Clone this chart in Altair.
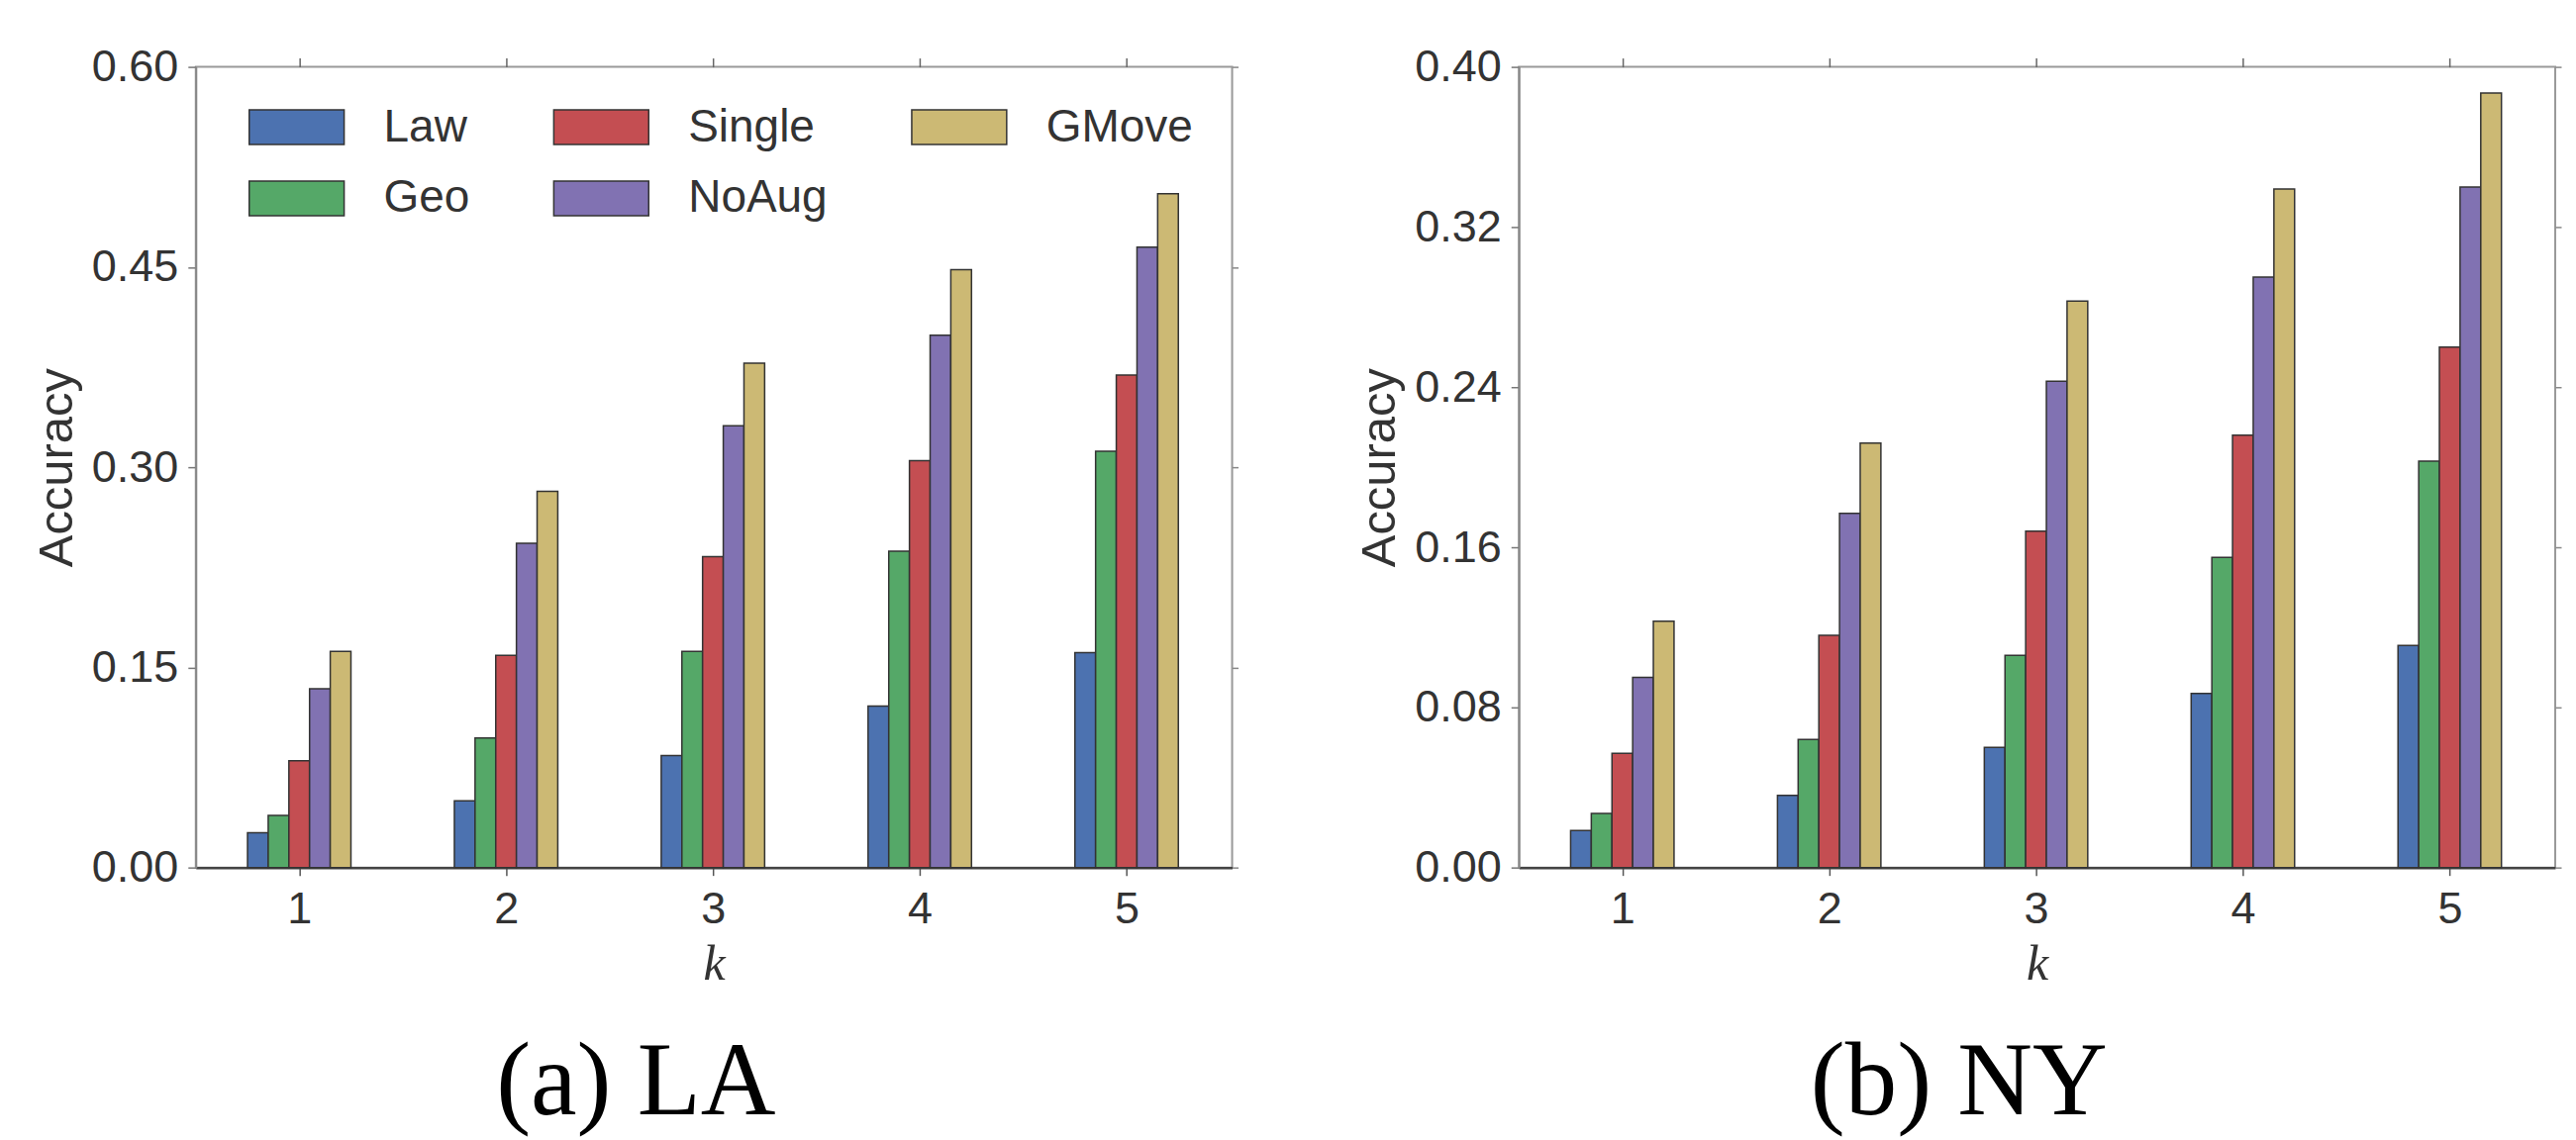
import altair as alt
import pandas as pd

ks = [1, 2, 3, 4, 5]
methods = ["Law", "Geo", "Single", "NoAug", "GMove"]
colors = ["#4C72B0", "#55A868", "#C44E52", "#8172B2", "#CCB974"]

# LA accuracy values
la_law = [0.026, 0.050, 0.084, 0.121, 0.161]
la_geo = [0.039, 0.097, 0.162, 0.237, 0.312]
la_single = [0.080, 0.159, 0.233, 0.305, 0.369]
la_noaug = [0.134, 0.243, 0.331, 0.399, 0.465]
la_gmove = [0.162, 0.282, 0.378, 0.448, 0.505]

# NY accuracy values
ny_law = [0.0185, 0.036, 0.060, 0.087, 0.111]
ny_geo = [0.027, 0.064, 0.106, 0.155, 0.203]
ny_single = [0.057, 0.116, 0.168, 0.216, 0.260]
ny_noaug = [0.095, 0.177, 0.243, 0.295, 0.340]
ny_gmove = [0.123, 0.212, 0.283, 0.339, 0.387]

la_ticks = [0.0, 0.15, 0.30, 0.45, 0.60]
ny_ticks = [0.0, 0.08, 0.16, 0.24, 0.32, 0.40]


def make_df(series):
    rows = []
    for idx, (m, vals) in enumerate(zip(methods, series)):
        for k, v in zip(ks, vals):
            rows.append({"k": k, "method": m, "idx": idx, "value": v})
    return pd.DataFrame(rows)


SANS = "Liberation Sans"
SERIF = "Liberation Serif"
XDOM = [0.5, 5.51]


def panel(df, ticks, title):
    ymax = ticks[-1]
    base = alt.Chart(df).transform_calculate(
        x0=alt.datum.k - 0.25 + alt.datum.idx * 0.1,
        x1=alt.datum.k - 0.15 + alt.datum.idx * 0.1,
    )
    xscale = alt.Scale(domain=XDOM, nice=False, zero=False)
    yscale = alt.Scale(domain=[0, ymax], nice=False)
    bars = base.mark_bar(stroke="#333333", strokeWidth=1.5, opacity=1).encode(
        x=alt.X("x0:Q", scale=xscale,
                axis=alt.Axis(values=ks, format="d", title="k", grid=False,
                              labelFont=SANS, labelFontSize=45, labelColor="#333333",
                              labelPadding=12, tickSize=8, tickColor="#555555",
                              tickWidth=1.5, domainColor="#444444", domainWidth=2.5,
                              titleFont=SERIF, titleFontStyle="italic",
                              titleFontWeight="normal", titleFontSize=50,
                              titleColor="#333333", titlePadding=8)),
        x2="x1:Q",
        y=alt.Y("value:Q", scale=yscale,
                axis=alt.Axis(values=ticks, format=".2f", title="Accuracy", grid=False,
                              labelFont=SANS, labelFontSize=45, labelColor="#333333",
                              labelPadding=10, tickSize=8, tickColor="#777777",
                              tickWidth=1.5, domainColor="#888888", domainWidth=2,
                              titleFont=SANS, titleFontWeight="normal", titleFontSize=49,
                              titleColor="#333333", titlePadding=10)),
        y2=alt.datum(0),
        color=alt.Color("method:N",
                        scale=alt.Scale(domain=methods, range=colors),
                        legend=alt.Legend(title=None, orient="none", legendX=53, legendY=12,
                                          columns=3, padding=0,
                                          symbolType="M-1,-0.365H1V0.365H-1Z",
                                          symbolSize=9216, symbolStrokeColor="#333333",
                                          symbolStrokeWidth=1.5, symbolOpacity=1,
                                          labelFont=SANS, labelFontSize=46,
                                          labelColor="#333333", labelOffset=39,
                                          columnPadding=82, rowPadding=-7)),
    )
    frame = base.mark_bar(opacity=0).encode(
        x=alt.X("x0:Q", scale=xscale,
                axis=alt.Axis(orient="top", values=ks, labels=False, title=None,
                              domain=False, grid=False, tickSize=9, tickColor="#666666",
                              tickWidth=1.5)),
        x2="x1:Q",
        y=alt.Y("value:Q", scale=yscale,
                axis=alt.Axis(orient="right", values=ticks, labels=False, title=None,
                              domain=False, grid=False, tickSize=6, tickColor="#888888",
                              tickWidth=1.5)),
        y2=alt.datum(0),
    )
    return alt.layer(bars, frame).resolve_axis(x="independent", y="independent").properties(
        width=1048, height=810,
        title=alt.TitleParams(title, orient="bottom", anchor="middle", frame="bounds",
                              font=SERIF, fontSize=105, fontWeight="normal",
                              color="black", offset=44),
    )


la = panel(make_df([la_law, la_geo, la_single, la_noaug, la_gmove]), la_ticks, "(a) LA")
ny = panel(make_df([ny_law, ny_geo, ny_single, ny_noaug, ny_gmove]), ny_ticks, "(b) NY")

chart = alt.hconcat(la, ny, spacing=116).configure_view(
    stroke="#999999", strokeWidth=2
).properties(
    padding={"left": 24, "top": 36, "right": 5, "bottom": 5},
    background="white",
)

chart.save("out.html", embed_options={"renderer": "svg", "actions": False})
